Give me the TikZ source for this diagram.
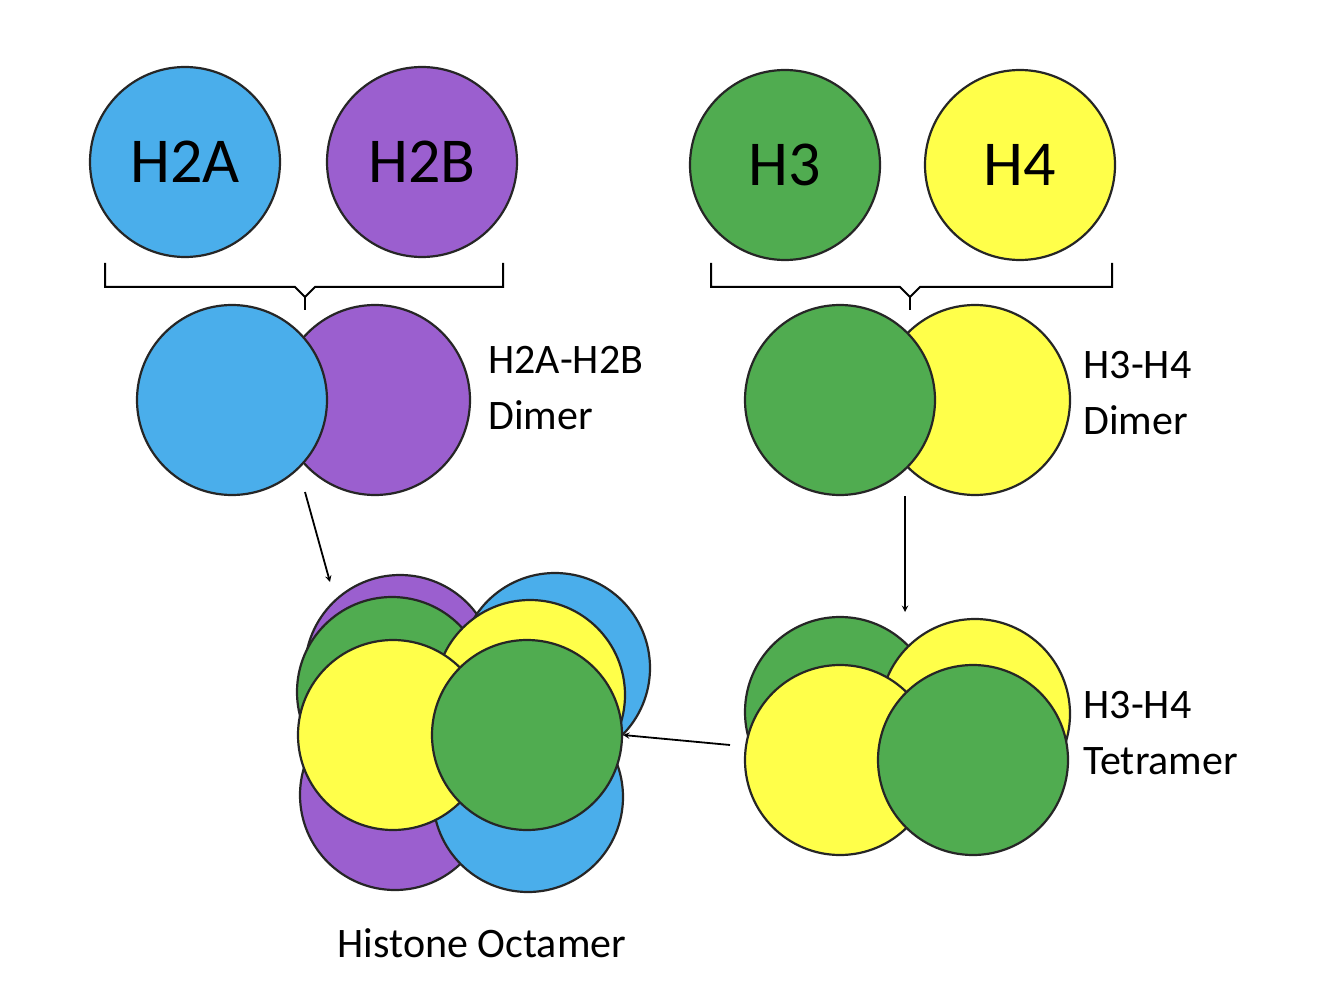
\documentclass[tikz,border=0pt]{standalone}
\usepackage{fontspec}
\setmainfont{Carlito}
\definecolor{hb}{RGB}{74,174,235}
\definecolor{hp}{RGB}{155,95,207}
\definecolor{hg}{RGB}{80,172,80}
\definecolor{hy}{RGB}{255,255,74}
\begin{document}
\begin{tikzpicture}[x=1pt,y=-1pt,
  ball/.style={circle,draw=black!85,line width=2.2pt,minimum size=190pt,inner sep=0pt},
  big/.style={font=\fontsize{64}{70}\selectfont},
  lab/.style={font=\fontsize{42}{56}\selectfont,align=left,anchor=west},
  arr/.style={-stealth,line width=1.8pt},
  br/.style={line width=2pt}]
\useasboundingbox (0,0) rectangle (1325,1000);
% monomers
\node[ball,fill=hb,big] (h2a) at (185,162) {H2A};
\node[ball,fill=hp,big] (h2b) at (422,162) {H2B};
\node[ball,fill=hg,big] (h3) at (785,165) {H3};
\node[ball,fill=hy,big] (h4) at (1020,165) {H4};
% braces
\coordinate (bl) at (305,310);
\draw[br] (105,263) -- (105,287) -- (295,287) -- (305,297) -- (315,287) -- (503,287) -- (503,263);
\draw[br] (305,297) -- (bl);
\coordinate (brr) at (910,310);
\draw[br] (711,263) -- (711,287) -- (900,287) -- (910,297) -- (920,287) -- (1112,287) -- (1112,263);
\draw[br] (910,297) -- (brr);
% dimers
\node[ball,fill=hp] (dp) at (375,400) {};
\node[ball,fill=hb] (db) at (232,400) {};
\node[ball,fill=hy] (dy) at (975,400) {};
\node[ball,fill=hg] (dg) at (840,400) {};
\node[lab] (l1) at (485,388) {H2A-H2B\\Dimer};
\node[lab] (l2) at (1080,393) {H3-H4\\Dimer};
% tetramer
\node[ball,fill=hg] (tg1) at (840,712) {};
\node[ball,fill=hy] (ty1) at (975,714) {};
\node[ball,fill=hy] (ty2) at (840,760) {};
\node[ball,fill=hg] (tg2) at (973,760) {};
\node[lab] (l3) at (1080,733) {H3-H4\\Tetramer};
% octamer
\node[ball,fill=hp] (op1) at (400,670) {};
\node[ball,fill=hb] (ob1) at (555,668) {};
\node[ball,fill=hp] (op2) at (395,795) {};
\node[ball,fill=hb] (ob2) at (528,797) {};
\node[ball,fill=hg] (og1) at (392,692) {};
\node[ball,fill=hy] (oy1) at (530,695) {};
\node[ball,fill=hy] (oy2) at (393,735) {};
\node[ball,fill=hg] (og2) at (527,735) {};
\node[font=\fontsize{42}{50}\selectfont] (l4) at (482,943) {Histone Octamer};
% arrows
\coordinate (a1s) at (305,492); \coordinate (a1e) at (330,582);
\draw[arr] (a1s) -- (a1e);
\draw[arr] (dg.south -| 905,0) ++(0,0) -- (905,612);
\coordinate (a3s) at (730,745);
\draw[arr] (a3s) -- (og2.east);
\end{tikzpicture}
\end{document}
